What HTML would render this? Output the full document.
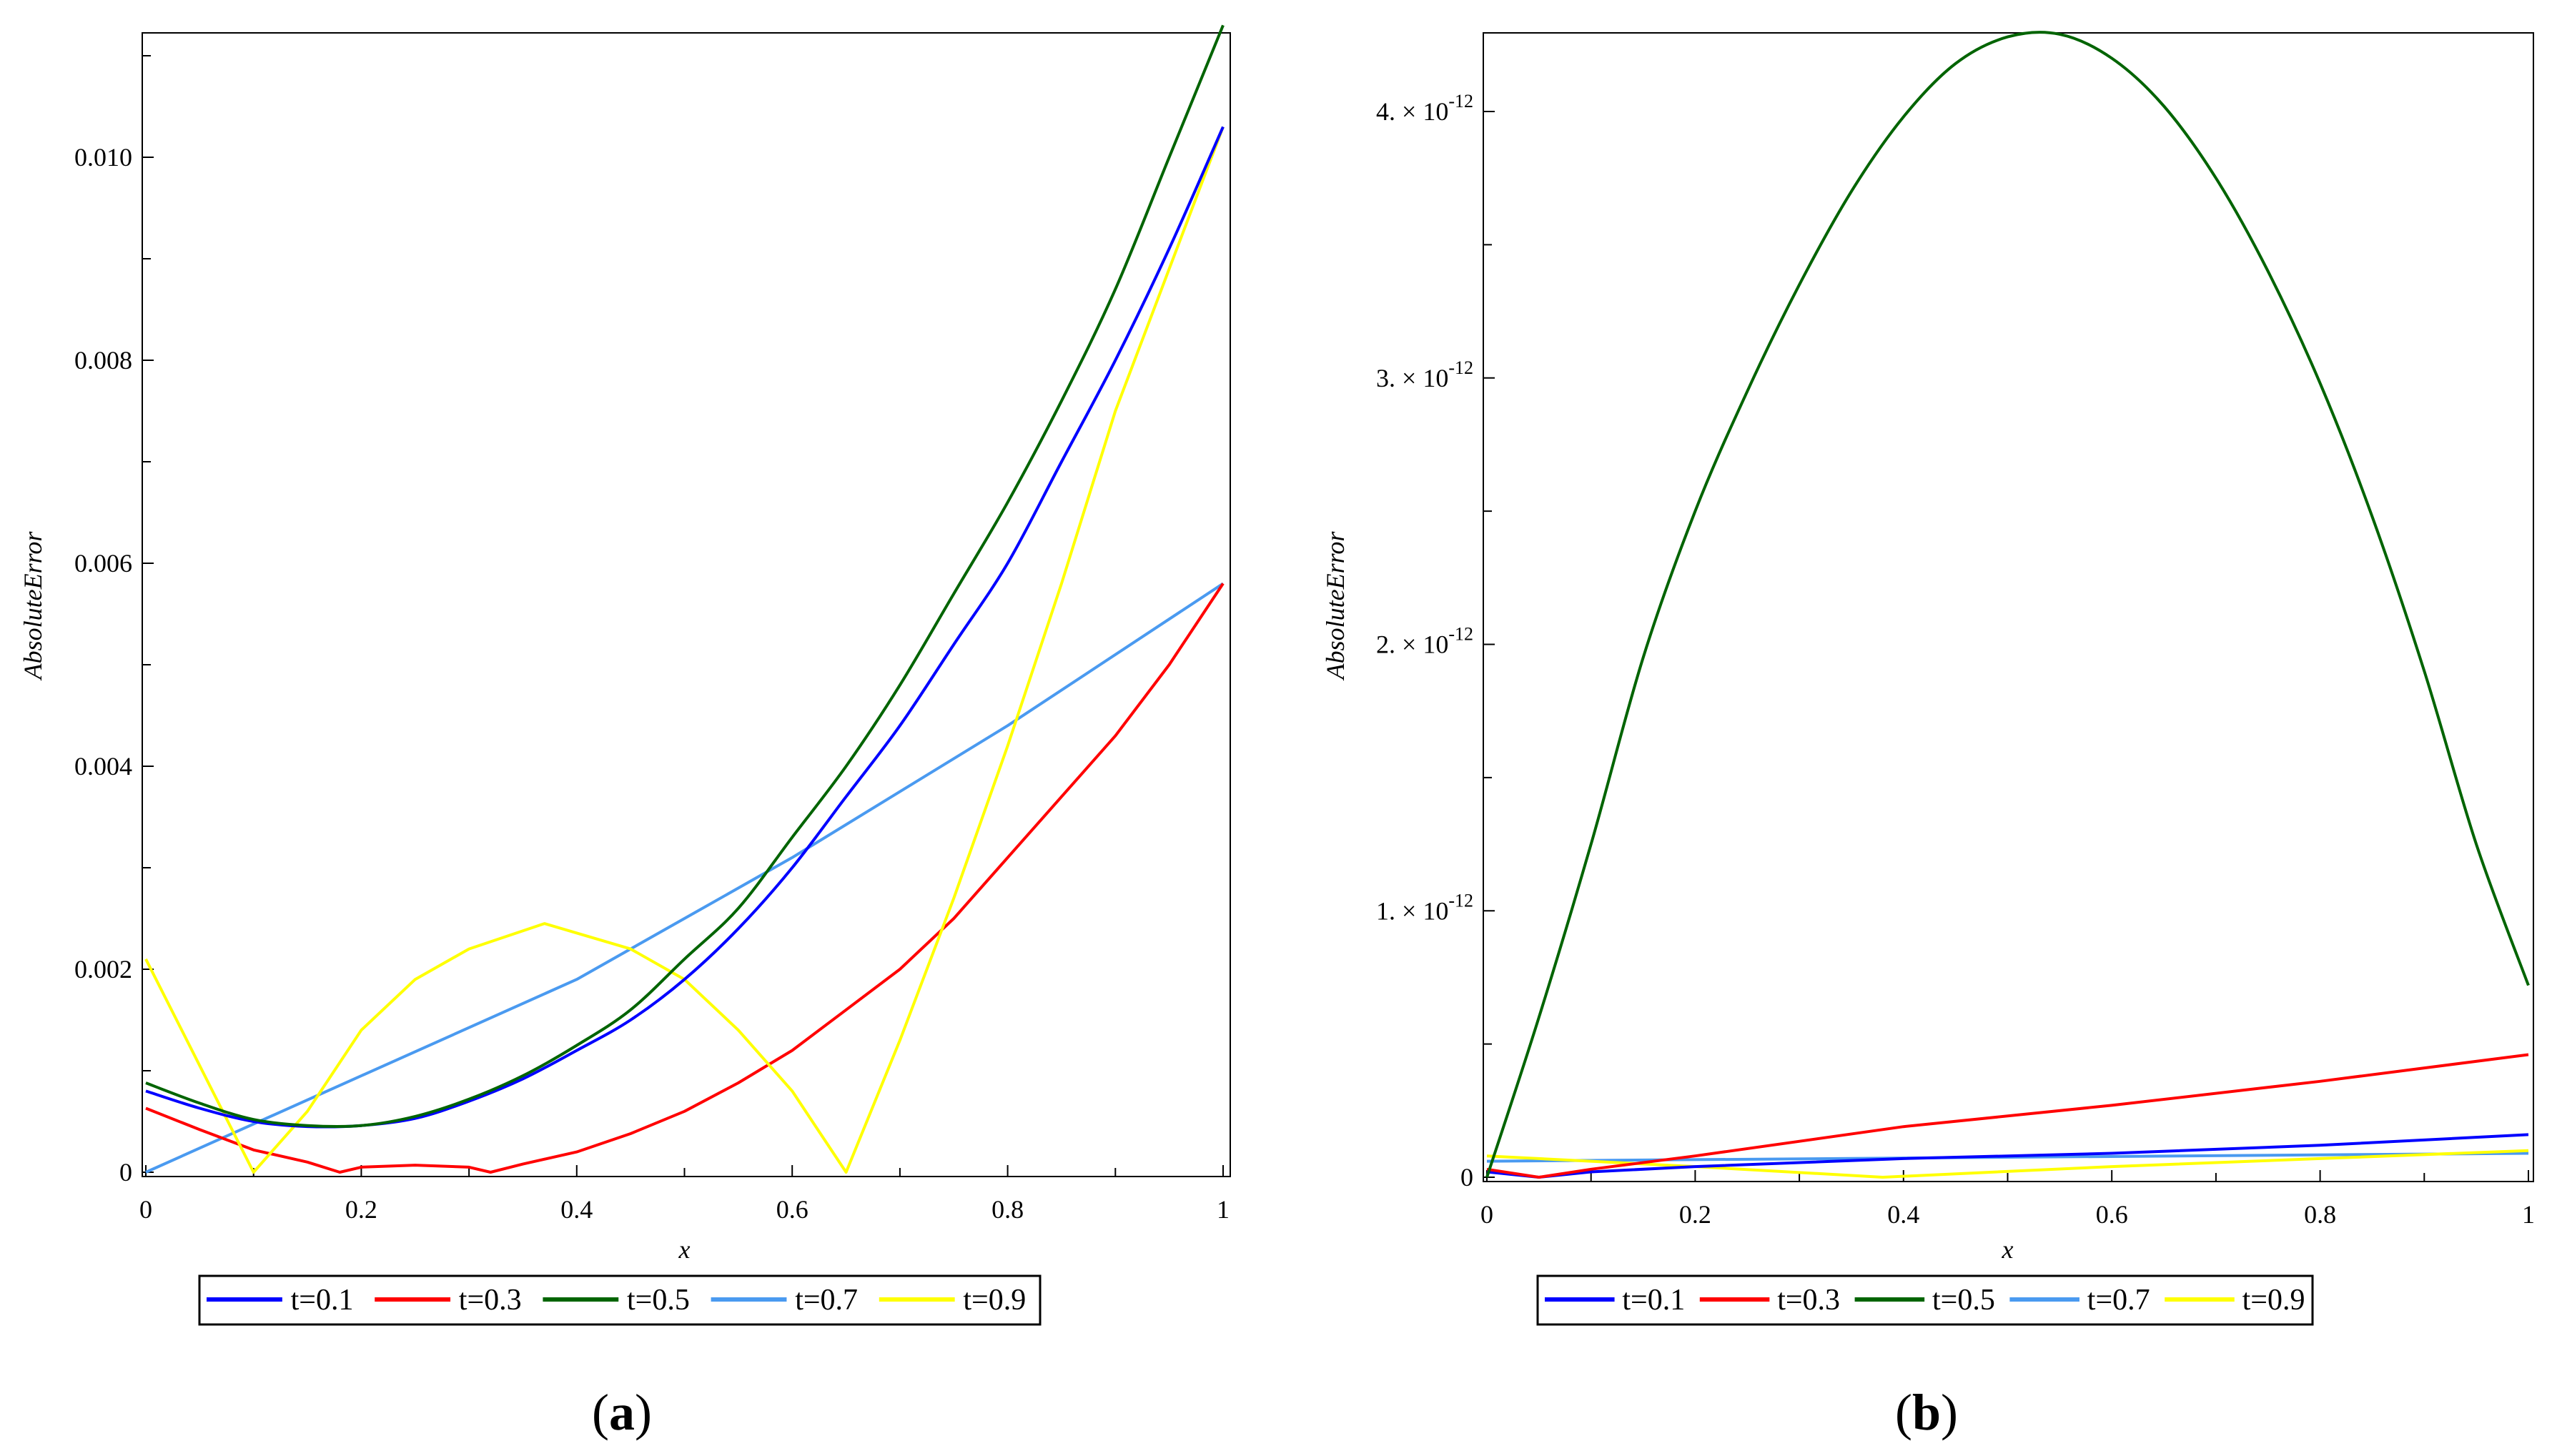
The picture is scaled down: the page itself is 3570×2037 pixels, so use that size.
<!DOCTYPE html>
<html><head><meta charset="utf-8"><style>
body{margin:0;background:#fff;}
svg{display:block;font-family:"Liberation Serif",serif;}
</style></head><body>
<svg id="fig" width="3570" height="2037" viewBox="0 0 3570 2037">
<g id="pa"></g>
<g id="pb"></g>
</svg>
<script>
// Panel (a) data
const aBlueX=[0,0.05,0.1,0.15,0.2,0.25,0.3,0.35,0.4,0.45,0.5,0.55,0.6,0.65,0.7,0.75,0.8,0.85,0.9,0.95,1];
const aBlueY=[0.0008,0.00063,0.0005,0.00045,0.00046,0.00053,0.0007,0.00092,0.0012,0.0015,0.0019,0.0024,0.003,0.0037,0.0044,0.0052,0.006,0.007,0.008,0.0091,0.0103];
const aGreenX=[0,0.05,0.1,0.15,0.2,0.25,0.3,0.35,0.4,0.45,0.5,0.55,0.6,0.65,0.7,0.75,0.8,0.85,0.9,0.95,1];
const aGreenY=[0.00088,0.00068,0.00052,0.00046,0.00046,0.00055,0.00072,0.00095,0.00125,0.0016,0.0021,0.0026,0.0033,0.004,0.0048,0.0057,0.0066,0.0076,0.0087,0.01,0.0113];
const aRedX=[0,0.05,0.1,0.15,0.18,0.2,0.25,0.3,0.32,0.35,0.4,0.45,0.5,0.55,0.6,0.65,0.7,0.75,0.8,0.85,0.9,0.95,1];
const aRedY=[0.00063,0.00042,0.00022,0.0001,0,0.00005,0.00007,0.00005,0,0.00008,0.0002,0.00038,0.0006,0.00088,0.0012,0.0016,0.002,0.0025,0.0031,0.0037,0.0043,0.005,0.0058];
const aLightX=[0,0.2,0.4,0.6,0.8,1];
const aLightY=[0,0.00095,0.0019,0.0031,0.0044,0.0058];
const aYellowX=[0,0.1,0.15,0.2,0.25,0.3,0.37,0.45,0.5,0.55,0.6,0.65,0.7,0.75,0.8,0.85,0.9,0.95,1];
const aYellowY=[0.0021,0,0.0006,0.0014,0.0019,0.0022,0.00245,0.0022,0.0019,0.0014,0.0008,0,0.0013,0.0027,0.0042,0.0058,0.0075,0.0089,0.0103];
const aYTicks=[0,0.002,0.004,0.006,0.008,0.010];
const aYLabels=["0","0.002","0.004","0.006","0.008","0.010"];
// Panel (b) data (units of 1e-12)
const bGreenX=[0,0.05,0.1,0.15,0.2,0.25,0.3,0.35,0.4,0.45,0.5,0.55,0.6,0.65,0.7,0.75,0.8,0.85,0.9,0.95,1];
const bGreenY=[0,0.6,1.25,1.95,2.5,2.95,3.35,3.7,3.98,4.18,4.28,4.29,4.2,4.02,3.75,3.4,2.98,2.48,1.9,1.25,0.72];
const bRedX=[0,0.05,0.1,0.2,0.4,0.6,0.8,1];
const bRedY=[0.03,0,0.03,0.08,0.19,0.27,0.36,0.46];
const bBlueX=[0,0.05,0.1,0.2,0.4,0.6,0.8,1];
const bBlueY=[0.02,0,0.02,0.04,0.07,0.09,0.12,0.16];
const bLightX=[0,1];
const bLightY=[0.06,0.09];
const bYellowX=[0,0.2,0.38,0.6,0.8,1];
const bYellowY=[0.08,0.04,0,0.04,0.07,0.1];
const bYTicks=[0,1,2,3,4];
const xTicks=[0,0.2,0.4,0.6,0.8,1];
const xLabels=["0","0.2","0.4","0.6","0.8","1"];
const legendNames=["t=0.1","t=0.3","t=0.5","t=0.7","t=0.9"];
const legendColors=["#0000ff","#ff0000","#006400","#4a9af0","#ffff00"];

const NS="http://www.w3.org/2000/svg";
function mk(p,tag,at,txt){const e=document.createElementNS(NS,tag);for(const k in at)e.setAttribute(k,at[k]);if(txt!==undefined)e.textContent=txt;p.appendChild(e);return e;}
function smoothPath(P){
  let d='M'+P[0][0].toFixed(1)+','+P[0][1].toFixed(1);
  for(let i=0;i<P.length-1;i++){
    const p0=P[Math.max(0,i-1)],p1=P[i],p2=P[i+1],p3=P[Math.min(P.length-1,i+2)];
    const c1=[p1[0]+(p2[0]-p0[0])/6,p1[1]+(p2[1]-p0[1])/6];
    const c2=[p2[0]-(p3[0]-p1[0])/6,p2[1]-(p3[1]-p1[1])/6];
    d+=' C'+c1.map(v=>v.toFixed(1)).join(',')+' '+c2.map(v=>v.toFixed(1)).join(',')+' '+p2[0].toFixed(1)+','+p2[1].toFixed(1);
  }
  return d;
}

function panel(g,cfg){
  const sx=v=>cfg.x0+(cfg.x1-cfg.x0)*v;
  const sy=v=>cfg.y0-(cfg.y0-cfg.yTop)*(v/cfg.yMax);
  const fr=mk(g,'rect',{x:cfg.fl,y:46,width:cfg.fr-cfg.fl,height:cfg.y0-46+6,fill:'none',stroke:'#000','stroke-width':2});
  
  
  for(let i=0;i<=10;i++){const v=i/10;const t=mk(g,'line',{x1:sx(v),x2:sx(v),y1:cfg.y0+6,y2:cfg.y0+6-(i%2?12:16),stroke:'#000','stroke-width':2});
    
    }
  xTicks.forEach((v,i)=>{const t=mk(g,'text',{x:sx(v),y:cfg.y0+64,'font-size':36,'text-anchor':'middle'},xLabels[i]);
    
    });
  cfg.minor.forEach(v=>{const t=mk(g,'line',{x1:cfg.fl,x2:cfg.fl+12,y1:sy(v),y2:sy(v),stroke:'#000','stroke-width':2});
    
    });
  cfg.yt.forEach((v,i)=>{
    const t=mk(g,'line',{x1:cfg.fl,x2:cfg.fl+16,y1:sy(v),y2:sy(v),stroke:'#000','stroke-width':2});
    
    
    const l=cfg.label(g,v,i,cfg.fl-14,sy(v)+12);
    
    });
  const xl=mk(g,'text',{x:(cfg.x0+cfg.x1)/2,y:1760,'font-size':36,'font-style':'italic','text-anchor':'middle'},'x');
  
  
  const yl=mk(g,'text',{x:0,y:0,'font-size':36,'font-style':'italic','text-anchor':'middle',transform:`translate(${cfg.ytx},847) rotate(-90)`},'AbsoluteError');
  
  
  cfg.series.forEach(s=>{
    const P=s[0].map((x,i)=>[sx(x),sy(s[1][i])]);
    const d=s[3]?smoothPath(P):P.map((p,i)=>(i?'L':'M')+p[0].toFixed(1)+','+p[1].toFixed(1)).join(' ');
    const p=mk(g,'path',{d:d,fill:'none',stroke:legendColors[s[2]],'stroke-width':4,'stroke-linejoin':'round'});
    
    });
  const lg=mk(g,'g',{});
  
  
  mk(lg,'rect',{x:cfg.lx0,y:1785,width:cfg.lx1-cfg.lx0,height:68,fill:'#fff',stroke:'#000','stroke-width':3});
  const w=(cfg.lx1-cfg.lx0)/5;
  legendNames.forEach((n,i)=>{
    const e=mk(lg,'g',{});
    
    
    const bx=cfg.lx0+10+i*w;
    mk(e,'line',{x1:bx,x2:bx+w*0.45,y1:1818,y2:1818,stroke:legendColors[i],'stroke-width':6});
    mk(e,'text',{x:bx+w*0.5,y:1832,'font-size':42},n);});
  const c=mk(g,'text',{x:cfg.cap,y:2000,'font-size':72,'text-anchor':'middle'});
  
  
  mk(c,'tspan',{},'(');mk(c,'tspan',{'font-weight':'bold'},cfg.capL);mk(c,'tspan',{},')');
}

panel(document.getElementById('pa'),{fl:199,fr:1721,x0:204,x1:1711,y0:1640,yTop:220,yMax:0.010,
  yt:aYTicks,minor:[0.001,0.003,0.005,0.007,0.009,0.011],ytx:58,
  label:(g,v,i,x,y)=>mk(g,'text',{x:x,y:y,'font-size':36,'text-anchor':'end'},aYLabels[i]),
  series:[[aLightX,aLightY,3,false],[aRedX,aRedY,1,false],[aYellowX,aYellowY,4,false],[aBlueX,aBlueY,0,true],[aGreenX,aGreenY,2,true]],
  lx0:279,lx1:1455,cap:870,capL:'a'});
panel(document.getElementById('pb'),{fl:2075,fr:3544,x0:2080,x1:3537,y0:1647,yTop:156,yMax:4,
  yt:bYTicks,minor:[0.5,1.5,2.5,3.5],ytx:1880,
  label:(g,v,i,x,y)=>{if(v===0)return mk(g,'text',{x:x,y:y,'font-size':36,'text-anchor':'end'},'0');
    const t=mk(g,'text',{x:x,y:y,'font-size':36,'text-anchor':'end'});
    mk(t,'tspan',{},v+'. \u00d7 10');mk(t,'tspan',{'font-size':26,dy:-18},'-12');return t;},
  series:[[bLightX,bLightY,3,false],[bYellowX,bYellowY,4,false],[bBlueX,bBlueY,0,false],[bRedX,bRedY,1,false],[bGreenX,bGreenY,2,true]],
  lx0:2151,lx1:3235,cap:2695,capL:'b'});
</script>
</body></html>
